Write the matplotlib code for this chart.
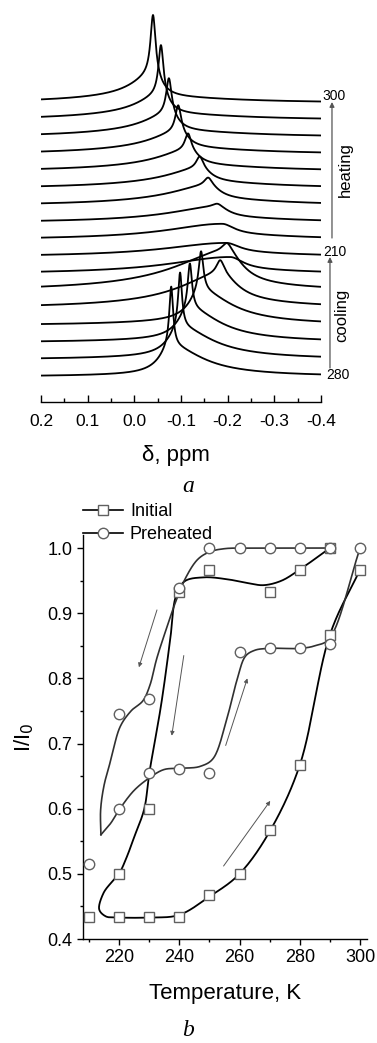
import numpy as np
import matplotlib
matplotlib.use("Agg")
import matplotlib.pyplot as plt
from matplotlib.lines import Line2D

plt.rcParams['font.family'] = ['Liberation Sans', 'DejaVu Sans']
plt.rcParams['axes.unicode_minus'] = False

# ---------------- panel a : 1H NMR spectra ----------------
temps = [300, 290, 280, 270, 260, 250, 240, 230, 220, 210, 220, 230, 240, 250, 260, 270, 280]
centers = [-0.040, -0.057, -0.074, -0.094, -0.115, -0.140, -0.158, -0.177, -0.188, -0.197,
           -0.205, -0.198, -0.184, -0.143, -0.119, -0.098, -0.079]
narrow_amp = [60, 50, 36, 27, 17, 12, 8, 3, 0, 0, 0, 8, 14, 40, 46, 55, 60]
narrow_w = [0.0065, 0.0065, 0.007, 0.0075, 0.008, 0.009, 0.010, 0.012, 0.012, 0.012,
            0.012, 0.012, 0.010, 0.006, 0.0055, 0.005, 0.005]
broad_amp = [22, 19, 17, 16, 15, 14, 14, 11, 11, 10, 13, 34, 28, 30, 30, 29, 28]
broad_wl = [0.055, 0.06, 0.065, 0.07, 0.075, 0.08, 0.09, 0.11, 0.13, 0.15,
            0.15, 0.13, 0.10, 0.03, 0.03, 0.03, 0.03]
broad_wr = [0.02, 0.02, 0.022, 0.024, 0.026, 0.028, 0.03, 0.03, 0.032, 0.035,
            0.035, 0.04, 0.045, 0.075, 0.075, 0.08, 0.08]
tail_amp = [6, 6, 6, 6, 6, 6, 6, 5, 5, 4, 4, 6, 6, 4, 3, 3, 2]
spacing = 17.1
top_offset = 299.0

# ---------------- panel b : I/I0 vs T ----------------
init_T = [210, 220, 220, 230, 240, 250, 260, 270, 280, 290, 300, 290, 280, 270, 250, 240, 230]
init_v = [0.433, 0.500, 0.433, 0.433, 0.433, 0.467, 0.500, 0.567, 0.667, 0.867, 0.967,
          1.000, 0.967, 0.933, 0.967, 0.933, 0.600]
pre_T = [210, 220, 220, 230, 230, 240, 240, 250, 250, 260, 260, 270, 270, 280, 280, 290, 290, 300]
pre_v = [0.515, 0.746, 0.600, 0.769, 0.654, 0.938, 0.661, 1.000, 0.654, 1.000, 0.840,
         1.000, 0.846, 1.000, 0.846, 1.000, 0.853, 1.000]

# smooth guide curves (control points)
init_curve_T = [300, 290, 280, 270, 260, 250, 240, 230, 220, 215.5, 213.4, 214.8, 217.5, 220,
                222.5, 225, 228.4, 230, 234, 237, 238.8, 241.5, 248, 256, 263, 268, 274, 280, 290]
init_curve_v = [0.967, 0.867, 0.667, 0.565, 0.500, 0.465, 0.437, 0.433, 0.433, 0.435, 0.446,
                0.470, 0.487, 0.500, 0.525, 0.556, 0.600, 0.653, 0.760, 0.860, 0.925, 0.948,
                0.955, 0.952, 0.946, 0.943, 0.950, 0.967, 1.000]
pre_cool_T = [290, 280, 270, 262, 255, 250, 246, 242.2, 239, 236, 232.5, 230.3, 228, 224,
              220.3, 217.3, 215, 213.9, 214.0]
pre_cool_v = [1.000, 1.000, 1.000, 1.000, 0.999, 0.994, 0.982, 0.955, 0.920, 0.880, 0.830,
              0.790, 0.766, 0.750, 0.725, 0.675, 0.635, 0.598, 0.560]
pre_heat_T = [214.0, 215.5, 217.3, 220.3, 225, 230.3, 234.9, 240.5, 247, 251.4, 255.9, 259.3,
              261.8, 265, 270.3, 280, 285, 290, 300]
pre_heat_v = [0.560, 0.568, 0.578, 0.600, 0.628, 0.648, 0.660, 0.662, 0.665, 0.678, 0.740,
              0.800, 0.833, 0.843, 0.846, 0.846, 0.850, 0.862, 1.000]

arrows_b = [((232.6, 0.905), (226.6, 0.817)),
            ((241.5, 0.835), (237.5, 0.712)),
            ((255.4, 0.697), (262.6, 0.800)),
            ((254.7, 0.512), (270.2, 0.612))]


def catmull_rom(xs, ys, n=30):
    pts = np.column_stack([xs, ys]).astype(float)
    sc = np.array([1.0 / 90.0, 1.0 / 0.6])
    p = np.vstack([pts[0] * 2 - pts[1], pts, pts[-1] * 2 - pts[-2]])
    out = []
    for i in range(1, len(p) - 2):
        p0, p1, p2, p3 = p[i - 1], p[i], p[i + 1], p[i + 2]

        def tj(ti, a, b):
            return ti + np.sqrt(np.linalg.norm((b - a) * sc)) + 1e-9
        t0 = 0.0
        t1 = tj(t0, p0, p1)
        t2 = tj(t1, p1, p2)
        t3 = tj(t2, p2, p3)
        t = np.linspace(t1, t2, n)[:, None]
        a1 = (t1 - t) / (t1 - t0) * p0 + (t - t0) / (t1 - t0) * p1
        a2 = (t2 - t) / (t2 - t1) * p1 + (t - t1) / (t2 - t1) * p2
        a3 = (t3 - t) / (t3 - t2) * p2 + (t - t2) / (t3 - t2) * p3
        b1 = (t2 - t) / (t2 - t0) * a1 + (t - t0) / (t2 - t0) * a2
        b2 = (t3 - t) / (t3 - t1) * a2 + (t - t1) / (t3 - t1) * a3
        c = (t2 - t) / (t2 - t1) * b1 + (t - t1) / (t2 - t1) * b2
        out.append(c if i == 1 else c[1:])
    c = np.vstack(out)
    return c[:, 0], c[:, 1]


W, H = 377, 1043
fig = plt.figure(figsize=(W / 100, H / 100), dpi=100)


def fx(px):
    return px / W


def fy(py):
    return 1 - py / H


# ---- top axes
axa = fig.add_axes([fx(41), fy(402), fx(321) - fx(41), fy(5) - fy(402)])
d = np.linspace(0.2, -0.4, 1500)
for k in range(len(temps)):
    dd = d - centers[k]
    narrow = narrow_amp[k] / (1 + (dd / narrow_w[k]) ** 2)
    w = np.where(dd > 0, broad_wl[k], broad_wr[k])
    broad = broad_amp[k] / (1 + (dd / w) ** 2)
    tail = tail_amp[k] / (1 + (dd / 0.2) ** 2)
    base = top_offset - spacing * k
    axa.plot(d, base + narrow + broad + tail, color='black', lw=1.3, solid_capstyle='butt')

axa.set_xlim(0.2, -0.4)
axa.set_ylim(0, 397)
for s in ['top', 'left', 'right']:
    axa.spines[s].set_visible(False)
axa.spines['bottom'].set_linewidth(1.0)
axa.set_yticks([])
axa.set_xticks([0.2, 0.1, 0.0, -0.1, -0.2, -0.3, -0.4])
axa.set_xticklabels(['0.2', '0.1', '0.0', '-0.1', '-0.2', '-0.3', '-0.4'])
axa.set_xticks(np.arange(0.15, -0.4, -0.1), minor=True)
axa.tick_params(axis='x', which='major', direction='in', length=5, width=1.0,
                labelsize=12.5, pad=9)
axa.tick_params(axis='x', which='minor', direction='in', length=3, width=1.0)
fig.text(fx(176), fy(456), 'δ, ppm', ha='center', va='center', fontsize=16)


def dx(px):
    return 0.2 - (px - 41) / 466.7


def dy(py):
    return 402 - py


axa.annotate('', xy=(dx(332), dy(102)), xytext=(dx(332), dy(238)),
             arrowprops=dict(arrowstyle='-|>', color='#555555', lw=0.9,
                             mutation_scale=7, shrinkA=0, shrinkB=0),
             annotation_clip=False)
axa.annotate('', xy=(dx(330), dy(257)), xytext=(dx(330), dy(368)),
             arrowprops=dict(arrowstyle='-|>', color='#555555', lw=0.9,
                             mutation_scale=7, shrinkA=0, shrinkB=0),
             annotation_clip=False)
fig.text(fx(322), fy(96), str(temps[0]), ha='left', va='center', fontsize=10)
fig.text(fx(323), fy(252), str(temps[9]), ha='left', va='center', fontsize=10)
fig.text(fx(326), fy(375), str(temps[-1]), ha='left', va='center', fontsize=10)
fig.text(fx(345), fy(170), 'heating', ha='center', va='center', rotation=90, fontsize=12)
fig.text(fx(342), fy(315), 'cooling', ha='center', va='center', rotation=90, fontsize=12)

fig.text(fx(188), fy(487), 'a', ha='center', va='center', fontsize=17, style='italic',
         family=['Liberation Serif', 'DejaVu Serif'])

# ---- bottom axes
axb = fig.add_axes([fx(83), fy(939), fx(367) - fx(83), fy(535) - fy(939)])
mc = '#606060'
x1, y1 = catmull_rom(init_curve_T, init_curve_v)
axb.plot(x1, y1, color='black', lw=1.3, zorder=2)
x2, y2 = catmull_rom(pre_cool_T, pre_cool_v)
axb.plot(x2, y2, color='#303030', lw=1.2, zorder=2)
x3, y3 = catmull_rom(pre_heat_T, pre_heat_v)
axb.plot(x3, y3, color='#303030', lw=1.2, zorder=2)

axb.plot(init_T, init_v, ls='none', marker='s', ms=7, mfc='white', mec=mc, mew=1.0,
         zorder=4, clip_on=False)
axb.plot(pre_T, pre_v, ls='none', marker='o', ms=7.5, mfc='white', mec=mc, mew=1.0,
         zorder=4, clip_on=False)

for (x0, y0), (x1a, y1a) in arrows_b:
    axb.annotate('', xy=(x1a, y1a), xytext=(x0, y0),
                 arrowprops=dict(arrowstyle='-|>', color='#555555', lw=0.7,
                                 mutation_scale=6, shrinkA=0, shrinkB=0))

axb.set_xlim(208.05, 302.3)
axb.set_ylim(0.4, 1.02)
for s in ['top', 'right']:
    axb.spines[s].set_visible(False)
axb.spines['left'].set_linewidth(1.0)
axb.spines['bottom'].set_linewidth(1.0)
axb.set_xticks([220, 240, 260, 280, 300])
axb.set_xticks([210, 230, 250, 270, 290], minor=True)
axb.set_yticks([0.4, 0.5, 0.6, 0.7, 0.8, 0.9, 1.0])
axb.set_yticklabels(['0.4', '0.5', '0.6', '0.7', '0.8', '0.9', '1.0'])
axb.set_yticks([0.45, 0.55, 0.65, 0.75, 0.85, 0.95], minor=True)
axb.tick_params(which='major', direction='out', length=4.5, width=1.0, labelsize=13, pad=3)
axb.tick_params(which='minor', direction='out', length=2.5, width=1.0)
axb.set_xlabel('Temperature, K', fontsize=16, labelpad=12)
axb.set_ylabel('I/I$_0$', fontsize=16, labelpad=8)

handles = [Line2D([], [], color='black', lw=1.2, marker='s', ms=7, mfc='white', mec=mc),
           Line2D([], [], color='black', lw=1.2, marker='o', ms=7.5, mfc='white', mec=mc)]
fig.legend(handles, ['Initial', 'Preheated'], loc='upper left',
           bbox_to_anchor=(fx(83), fy(503)), frameon=False, fontsize=13,
           handlelength=2.2, handletextpad=0.4, borderpad=0, borderaxespad=0,
           labelspacing=0.35)

fig.text(fx(188), fy(1030), 'b', ha='center', va='center', fontsize=17, style='italic',
         family=['Liberation Serif', 'DejaVu Serif'])

fig.savefig('out.png', dpi=100)
